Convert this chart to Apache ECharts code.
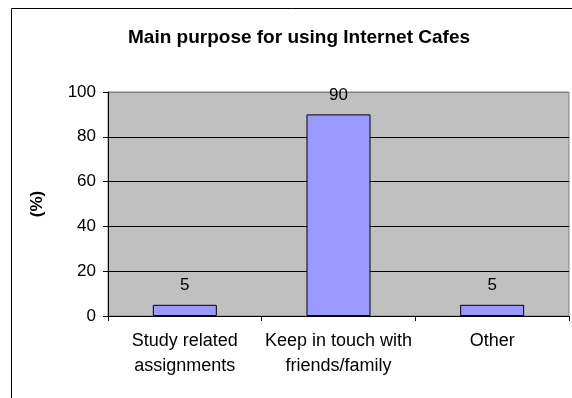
<!DOCTYPE html>
<html>
<head>
<meta charset="utf-8">
<script src="https://cdn.jsdelivr.net/npm/echarts@6/dist/echarts.min.js"></script>
<style>
  html, body { margin: 0; padding: 0; background: #fff; }
  #chart { width: 572px; height: 398px; }
</style>
</head>
<body>
<div id="chart"></div>
<script>
// Survey: main purpose for using Internet cafes (percent of respondents)
const categories = ['Study related\nassignments', 'Keep in touch with\nfriends/family', 'Other'];
const percentages = [5, 90, 5];
const yTicks = { min: 0, max: 100, interval: 20 };

const FONT = 'Liberation Sans, Arial, sans-serif';
const chart = echarts.init(document.getElementById('chart'));

chart.setOption({
  animation: false,
  backgroundColor: '#ffffff',
  textStyle: { fontFamily: FONT },
  title: {
    text: 'Main purpose for using Internet Cafes',
    left: 123,
    top: 23,
    textStyle: { fontFamily: FONT, fontSize: 19, fontWeight: 'bold', color: '#000' }
  },
  graphic: [{
    type: 'rect',
    shape: { x: 11.5, y: 8.5, width: 620, height: 420 },
    style: { fill: 'none', stroke: '#000', lineWidth: 1 },
    silent: true
  }],
  grid: {
    left: 108, top: 92, right: 3, bottom: 82,
    show: true,
    backgroundColor: '#c0c0c0',
    borderColor: '#808080',
    borderWidth: 1
  },
  xAxis: {
    type: 'category',
    data: categories,
    axisLine: { lineStyle: { color: '#000', width: 1 } },
    axisTick: { show: true, length: 5, alignWithLabel: false, lineStyle: { color: '#000' } },
    axisLabel: {
      color: '#000', fontSize: 18, fontFamily: FONT,
      lineHeight: 24.5, margin: 13, interval: 0
    }
  },
  yAxis: {
    type: 'value',
    min: yTicks.min, max: yTicks.max, interval: yTicks.interval,
    name: '(%)',
    nameLocation: 'middle',
    nameRotate: 90,
    nameGap: 62,
    nameTextStyle: { fontFamily: FONT, fontSize: 17, fontWeight: 'bold', color: '#000' },
    axisLine: { show: true, lineStyle: { color: '#000', width: 1 } },
    axisTick: { show: true, length: 5, lineStyle: { color: '#000' } },
    axisLabel: { color: '#000', fontSize: 17, fontFamily: FONT, margin: 12 },
    splitLine: {
      show: true,
      lineStyle: { color: ['#000', '#000', '#000', '#000', '#000', '#808080'], width: 1 }
    }
  },
  series: [{
    type: 'bar',
    data: percentages,
    barWidth: 64,
    itemStyle: { color: '#9999ff', borderColor: '#000', borderWidth: 1 },
    label: {
      show: true,
      position: 'top',
      distance: 11,
      color: '#000',
      fontSize: 17,
      fontFamily: FONT
    }
  }]
});
</script>
</body>
</html>
